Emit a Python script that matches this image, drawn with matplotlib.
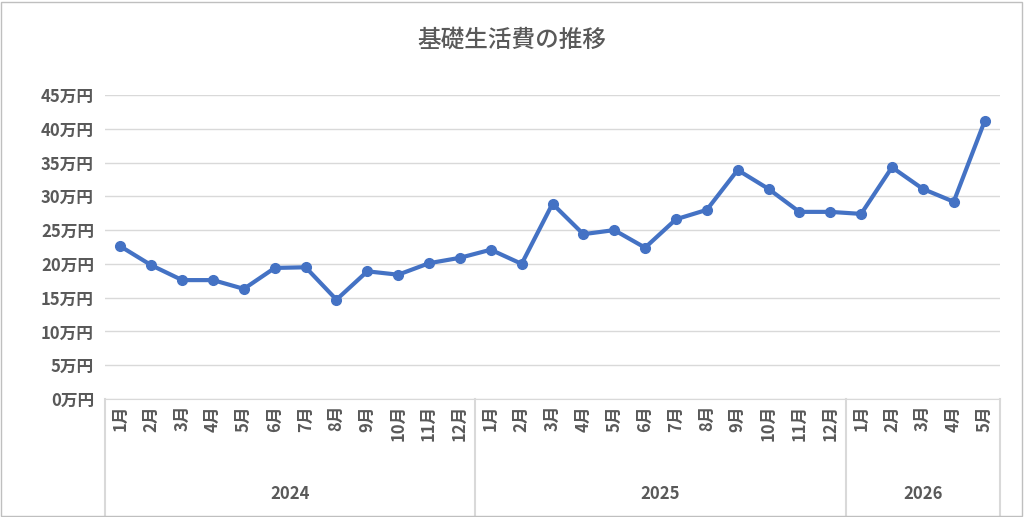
import matplotlib.pyplot as plt
from matplotlib.transforms import blended_transform_factory

plt.rcParams['font.family'] = ['Noto Sans CJK JP', 'DejaVu Sans']

years = ['2024', '2025', '2026']
months_per_year = [12, 12, 5]
values = [22.6, 19.8, 17.6, 17.6, 16.3, 19.4, 19.5, 14.7, 18.9, 18.4, 20.1, 20.9,
          22.1, 20.0, 28.9, 24.4, 25.0, 22.4, 26.6, 28.0, 33.9, 31.1, 27.7, 27.7,
          27.4, 34.3, 31.1, 29.2, 41.1]
month_labels = [f'{m}月' for n in months_per_year for m in range(1, n + 1)]
y_ticks = list(range(0, 50, 5))

W, H = 1024, 517
fig = plt.figure(figsize=(W / 100, H / 100), dpi=100)
ax = fig.add_axes([105 / W, (H - 399) / H, (1000 - 105) / W, (399 - 95) / H])

text_col = '#595959'
line_col = '#D9D9D9'
x = list(range(len(values)))
ax.plot(x, values, color='#4472C4', linewidth=3, marker='o', markersize=7, zorder=3)

ax.set_xlim(-0.5, len(values) - 0.5)
ax.set_ylim(0, 45)
ax.set_yticks(y_ticks)
ax.set_yticklabels([f'{v}万円' for v in y_ticks], fontsize=12, fontweight='bold', color=text_col)
ax.grid(axis='y', color=line_col, linewidth=1)
ax.tick_params(axis='y', length=0, pad=8)
ax.set_xticks([])
for s in ['top', 'right', 'left']:
    ax.spines[s].set_visible(False)
ax.spines['bottom'].set_color(line_col)

# multi-level category axis
tr = blended_transform_factory(ax.transData, ax.transAxes)
px = 1 / (399 - 95)
for i, lab in enumerate(month_labels):
    ax.text(i, -6 * px, lab, transform=tr, rotation=90, ha='center', va='top',
            fontsize=12, fontweight='bold', color=text_col)
start = 0
bounds = [-0.5]
for yr, n in zip(years, months_per_year):
    ax.text(start + (n - 1) / 2, -95 * px, yr, transform=tr, ha='center', va='center',
            fontsize=12, fontweight='bold', color=text_col)
    start += n
    bounds.append(start - 0.5)
for b in bounds:
    ax.plot([b, b], [0, -118 * px], transform=tr, color=line_col, linewidth=1.5, clip_on=False)

fig.text(0.5, (H - 40) / H, '基礎生活費の推移', ha='center', va='center',
         fontsize=17, fontweight='medium', color=text_col)
fig.add_artist(plt.Rectangle((0.001, 0.002), 0.997, 0.995, transform=fig.transFigure,
                             fill=False, edgecolor='#BFBFBF', linewidth=1))
fig.savefig('out.png', dpi=100)
